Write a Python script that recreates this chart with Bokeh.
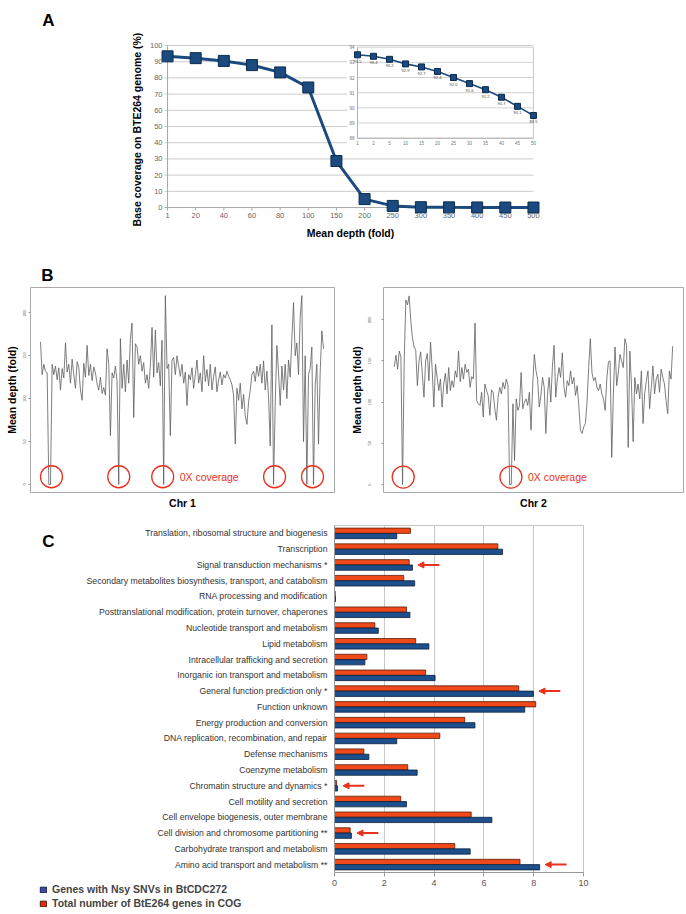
from bokeh.plotting import figure
from bokeh.models import (Range1d, FixedTicker, ColumnDataSource, Label, Legend, LegendItem,
                          Arrow, NormalHead, FactorRange, GridBox)
from bokeh.layouts import column, row
from bokeh.transform import dodge
from bokeh.embed import file_html
from bokeh.resources import INLINE

FONT = "Liberation Sans"
BLUE = "#1b4a7e"
BLUE_EDGE = "#0c2b50"
RED = "#e8321e"

# ---------------- Panel A data ----------------
depth_labels = ["1", "20", "40", "60", "80", "100", "150", "200", "250", "300", "350", "400", "450", "500"]
coverage_pct = [93.3, 92.2, 90.5, 87.9, 83.4, 74.1, 28.7, 5.2, 1.0, 0.2, 0.1, 0.05, 0.0, 0.0]
coverage_ticks = [0, 10, 20, 30, 40, 50, 60, 70, 80, 90, 100]

inset_depth_labels = ["1", "2", "5", "10", "15", "20", "25", "30", "35", "40", "45", "50"]
inset_coverage = [93.5, 93.4, 93.2, 92.9, 92.7, 92.4, 92.0, 91.6, 91.2, 90.7, 90.1, 89.5]
inset_ticks = [88, 89, 90, 91, 92, 93, 94]

# ---------------- Panel B data ----------------
chr1_depth = [166, 128, 140, 132, 130, 0, 0, 140, 128, 138,
              122, 136, 110, 135, 124, 165, 131, 140, 118, 146,
              128, 112, 143, 136, 110, 98, 141, 125, 162, 127,
              140, 121, 137, 130, 117, 110, 125, 106, 113, 104,
              158, 140, 57, 130, 124, 138, 120, 0, 170, 112,
              140, 108, 145, 118, 170, 188, 78, 164, 160, 140,
              150, 132, 142, 118, 128, 112, 138, 183, 125, 180,
              130, 142, 115, 168, 0, 220, 135, 140, 57, 145,
              148, 128, 150, 138, 126, 140, 118, 131, 92, 128,
              122, 136, 112, 128, 145, 118, 130, 108, 150, 120,
              134, 115, 140, 110, 126, 137, 108, 122, 131, 116,
              128, 124, 132, 126, 122, 116, 104, 47, 112, 98,
              118, 88, 105, 80, 70, 96, 110, 128, 132, 120,
              138, 126, 140, 118, 144, 110, 132, 102, 45, 186,
              0, 95, 162, 130, 92, 138, 110, 140, 100, 145,
              125, 170, 212, 150, 165, 128, 195, 220, 50, 150,
              0, 128, 135, 160, 0, 115, 140, 47, 130, 179,
              158]
chr1_gap_idx = [6.6, 47, 73.4, 140.6, 163.4]

chr2_depth = [143, 157, 140, 162, 155, 0, 150, 224, 218, 229,
              199, 178, 167, 163, 120, 150, 161, 134, 106, 150,
              159, 126, 173, 140, 94, 146, 130, 114, 128, 94,
              122, 135, 110, 142, 114, 126, 118, 138, 130, 162,
              125, 142, 128, 146, 136, 140, 118, 131, 128, 196,
              102, 98, 96, 112, 82, 122, 114, 108, 84, 115,
              112, 92, 78, 106, 118, 110, 124, 116, 128, 120,
              0, 0, 98, 29, 104, 90, 96, 136, 92, 100,
              104, 96, 112, 66, 120, 158, 138, 128, 94, 108,
              130, 118, 62, 110, 130, 100, 144, 169, 106, 128,
              142, 130, 160, 118, 106, 126, 120, 138, 122, 130,
              108, 120, 96, 66, 62, 70, 74, 100, 142, 177,
              136, 126, 130, 118, 114, 122, 110, 104, 90, 128,
              149, 150, 33, 110, 167, 120, 136, 158, 150, 142,
              177, 169, 45, 162, 120, 52, 130, 110, 122, 104,
              138, 74, 110, 126, 138, 92, 118, 144, 110, 128,
              134, 112, 140, 130, 122, 102, 86, 138, 128, 168]
chr2_gap_idx = [5.4, 70.8]
depth_ticks = [0, 50, 100, 150, 200]

# ---------------- Panel C data ----------------
cog_categories = [
    "Translation, ribosomal structure and biogenesis",
    "Transcription",
    "Signal transduction mechanisms *",
    "Secondary metabolites biosynthesis, transport, and catabolism",
    "RNA processing and modification",
    "Posttranslational modification, protein turnover, chaperones",
    "Nucleotide transport and metabolism",
    "Lipid metabolism",
    "Intracellular trafficking and secretion",
    "Inorganic ion transport and metabolism",
    "General function prediction only *",
    "Function unknown",
    "Energy production and conversion",
    "DNA replication, recombination, and repair",
    "Defense mechanisms",
    "Coenzyme metabolism",
    "Chromatin structure and dynamics *",
    "Cell motility and secretion",
    "Cell envelope biogenesis, outer membrane",
    "Cell division and chromosome partitioning **",
    "Carbohydrate transport and metabolism",
    "Amino acid transport and metabolism **",
]
snv_genes_pct = [2.5, 6.75, 3.13, 3.22, 0.04, 3.03, 1.76, 3.79, 1.22, 4.04, 7.99,
                 7.64, 5.64, 2.5, 1.38, 3.32, 0.12, 2.89, 6.32, 0.68, 5.45, 8.24]
cog_genes_pct = [3.05, 6.56, 3.0, 2.78, 0.03, 2.89, 1.62, 3.26, 1.30, 3.66, 7.40,
                 8.08, 5.23, 4.23, 1.18, 2.94, 0.08, 2.66, 5.49, 0.63, 4.83, 7.45]
pct_ticks = [0, 2, 4, 6, 8, 10]
legend_labels = ["Genes with Nsy SNVs in BtCDC272", "Total number of BtE264 genes in COG"]
panel_letters = ["A", "B", "C"]

W, H = 686, 914
A_H, B_H = 250, 262
C_H = H - A_H - B_H

# ================= Panel A =================
nA = len(depth_labels)
xA = list(range(nA))
A_L, A_R, A_T, A_B = 160, 146, 44, 36
frame_w = W - A_L - A_R
frame_h = A_H - A_T - A_B
x_pad = 0.25
y_lo, y_hi = -4.3, 100.62
pA = figure(width=W, height=A_H, x_range=Range1d(-x_pad, nA - 1 + x_pad),
            y_range=Range1d(y_lo, y_hi), output_backend="svg", toolbar_location=None,
            title_location=None,
            min_border_left=A_L, min_border_right=A_R, min_border_top=A_T, min_border_bottom=A_B)
pA.outline_line_color = None
pA.xgrid.visible = False
pA.ygrid.visible = False
# inset coordinate system (pixel placement of the inset within the frame)
px_x = frame_w / (nA - 1 + 2 * x_pad)
px_y = frame_h / (y_hi - y_lo)
nI = len(inset_depth_labels)
xI = list(range(nI))
in_left = px_x * x_pad + 190
in_right = px_x * (x_pad + nA - 1)
ipx = (in_right - in_left) / (nI - 1)
in_top = 1.7 + px_y * (y_hi - 100)
in_bottom = in_top + 91
ipy = (in_bottom - in_top) / (inset_ticks[-1] - inset_ticks[0])
pA.extra_x_ranges = {"ix": Range1d(-in_left / ipx, nI - 1 + (frame_w - in_right) / ipx)}
pA.extra_y_ranges = {"iy": Range1d(inset_ticks[0] - (frame_h - in_bottom) / ipy,
                                   inset_ticks[-1] + in_top / ipy)}

tick_dx = 3 / px_x
tick_dy = 3 / px_y
grid_y = [t for t in coverage_ticks if t > 0]
pA.segment(x0=[-tick_dx] * len(grid_y), y0=grid_y, x1=[nA - 1] * len(grid_y), y1=grid_y,
           line_color="#cccccc", line_width=1)
pA.segment(x0=[0, 0], y0=[0, 0], x1=[0, nA - 1], y1=[100, 0], line_color="#a8a8a8", line_width=1)
pA.segment(x0=xA, y0=[0] * nA, x1=xA, y1=[-tick_dy] * nA, line_color="#a8a8a8", line_width=1)
pA.segment(x0=[-tick_dx], y0=[0], x1=[0], y1=[0], line_color="#a8a8a8", line_width=1)

pA.quad(left=[-0.65], right=[nI - 1], top=[inset_ticks[-1]], bottom=[inset_ticks[0] - 0.9],
        fill_color="white", line_color=None, x_range_name="ix", y_range_name="iy")
pA.segment(x0=[0] * len(inset_ticks), y0=inset_ticks, x1=[nI - 1] * len(inset_ticks), y1=inset_ticks,
           line_color="#d2d2d2", line_width=1, x_range_name="ix", y_range_name="iy")
pA.segment(x0=[0, nI - 1], y0=[inset_ticks[0]] * 2, x1=[0, nI - 1], y1=[inset_ticks[-1]] * 2,
           line_color=["#b0b0b0", "#c8c8c8"], line_width=1, x_range_name="ix", y_range_name="iy")
pA.segment(x0=[0], y0=[inset_ticks[0]], x1=[nI - 1], y1=[inset_ticks[0]],
           line_color="#b0b0b0", line_width=1, x_range_name="ix", y_range_name="iy")
pA.text(x=[0] * len(inset_ticks), y=inset_ticks, text=[str(t) for t in inset_ticks],
        x_offset=-3, text_align="right", text_baseline="middle", text_font_size="4.5px",
        text_color="#777777", text_font={"value": FONT}, x_range_name="ix", y_range_name="iy")
pA.text(x=xI, y=[inset_ticks[0]] * nI, text=inset_depth_labels, y_offset=5,
        text_align="center", text_baseline="middle", text_font_size="4.5px",
        text_color="#777777", text_font={"value": FONT}, x_range_name="ix", y_range_name="iy")
pA.line(xI, inset_coverage, line_color=BLUE, line_width=1.6, x_range_name="ix", y_range_name="iy")
pA.scatter(xI, inset_coverage, marker="square", size=6, fill_color=BLUE, line_color=BLUE_EDGE,
           x_range_name="ix", y_range_name="iy")
pA.text(x=xI, y=inset_coverage, text=["%.1f" % v for v in inset_coverage], y_offset=6.5,
        text_align="center", text_baseline="middle", text_font_size="4px",
        text_color="#444444", text_font={"value": FONT}, x_range_name="ix", y_range_name="iy")

pA.line(xA, coverage_pct, line_color=BLUE, line_width=3)
pA.scatter(xA, coverage_pct, marker="square", size=11, fill_color=BLUE, line_color=BLUE_EDGE,
           line_width=1)

pA.xaxis.ticker = FixedTicker(ticks=xA)
pA.xaxis.major_label_overrides = {i: lab for i, lab in enumerate(depth_labels)}
pA.xaxis.axis_label = "Mean depth (fold)"
pA.xaxis.axis_label_standoff = 6
pA.yaxis.ticker = FixedTicker(ticks=coverage_ticks)
pA.yaxis.axis_label = "Base coverage on BTE264 genome (%)"
pA.yaxis.axis_label_standoff = 4
for ax in (pA.xaxis, pA.yaxis):
    ax.axis_line_color = None
    ax.major_tick_line_color = None
    ax.minor_tick_line_color = None
    ax.major_tick_out = 0
    ax.major_tick_in = 0
    ax.major_label_standoff = -2
    ax.major_label_text_font = FONT
    ax.major_label_text_font_size = "7.5px"
    ax.major_label_text_color = "#666666"
    ax.axis_label_text_font = FONT
    ax.axis_label_text_font_size = "10.5px"
    ax.axis_label_text_font_style = "bold"
    ax.axis_label_text_color = "black"


# ================= Panel B =================
def depth_panel(values, gaps, width, left_b, right_b, y_lo, y_hi, chr_label, label_gap,
                tick_standoff, pad_l, pad_r):
    n = len(values)
    fw = width - left_b - right_b
    px = (fw - pad_l - pad_r) / (n - 1)
    p = figure(width=width, height=B_H, x_range=Range1d(-pad_l / px, n - 1 + pad_r / px),
               y_range=Range1d(y_lo, y_hi), output_backend="svg", toolbar_location=None,
               title_location=None,
               min_border_left=left_b, min_border_right=right_b, min_border_top=37,
               min_border_bottom=20)
    p.outline_line_color = "#a8a8a8"
    p.outline_line_width = 1
    p.xgrid.visible = False
    p.ygrid.visible = False
    p.line(list(range(n)), values, line_color="#5e5e5e", line_width=0.8)
    p.scatter(gaps, [9] * len(gaps), marker="circle", size=22, fill_color=None,
              line_color=RED, line_width=1.3)
    p.add_layout(Label(x=label_gap, y=9, x_offset=17, text="0X coverage", text_font=FONT,
                       text_font_size="10.5px", text_color=RED, text_baseline="middle"))
    p.yaxis.ticker = FixedTicker(ticks=depth_ticks)
    p.yaxis.major_label_orientation = "vertical"
    p.yaxis.major_label_text_font_size = "4px"
    p.yaxis.major_label_text_color = "#555555"
    p.yaxis.major_label_text_font = FONT
    p.yaxis.major_label_standoff = tick_standoff
    p.yaxis.major_tick_out = 2
    p.yaxis.major_tick_in = 0
    p.yaxis.major_tick_line_color = "#999999"
    p.yaxis.minor_tick_line_color = None
    p.yaxis.axis_line_color = None
    p.yaxis.axis_label = "Mean depth (fold)"
    p.yaxis.axis_label_standoff = 3
    p.xaxis.ticker = FixedTicker(ticks=[])
    p.xaxis.axis_line_color = None
    p.xaxis.major_tick_out = 0
    p.xaxis.minor_tick_line_color = None
    p.xaxis.axis_label = chr_label
    p.xaxis.axis_label_standoff = 4
    for ax in (p.xaxis, p.yaxis):
        ax.axis_label_text_font = FONT
        ax.axis_label_text_font_size = "10.5px"
        ax.axis_label_text_font_style = "bold"
        ax.axis_label_text_color = "black"
    return p


pB1 = depth_panel(chr1_depth, chr1_gap_idx, 347, 30, 13, -9.32, 229.47, "Chr 1",
                  chr1_gap_idx[2], 2, 10, 11)
pB2 = depth_panel(chr2_depth, chr2_gap_idx, W - 347, 31, 3, -9.71, 239.2, "Chr 2",
                  chr2_gap_idx[1], 10, 11, 11)

# ================= Panel C =================
nC = len(cog_categories)
pC = figure(width=W, height=C_H, x_range=Range1d(pct_ticks[0], pct_ticks[-1]),
            y_range=FactorRange(factors=list(reversed(cog_categories))),
            output_backend="svg", toolbar_location=None, title_location=None,
            min_border_left=334, min_border_right=103, min_border_top=13, min_border_bottom=42)
pC.outline_line_color = "#c4c4c4"
pC.ygrid.visible = False
pC.xgrid.ticker = FixedTicker(ticks=pct_ticks)
pC.xgrid.grid_line_color = "#c8c8c8"
srcC = ColumnDataSource(dict(cat=cog_categories, snv=snv_genes_pct, cog=cog_genes_pct))
pC.hbar(y=dodge("cat", 0.168, range=pC.y_range), left=0, right="cog", height=0.335,
        fill_color="#f04818", line_color="#5a1e0a", line_width=0.8, source=srcC)
pC.hbar(y=dodge("cat", -0.168, range=pC.y_range), left=0, right="snv", height=0.335,
        fill_color="#1d4f8c", line_color="#0c1f3c", line_width=0.8, source=srcC)

arrow_rows = [i for i, c in enumerate(cog_categories) if c.endswith("*")]
heads = [max(snv_genes_pct[i], cog_genes_pct[i]) + 0.22 for i in arrow_rows]
arrow_src = ColumnDataSource(dict(xs=[h + 0.86 for h in heads], xe=heads,
                                  y=[nC - 1 - i + 0.5 for i in arrow_rows]))
pC.add_layout(Arrow(end=NormalHead(size=6, fill_color=RED, line_color=RED, line_width=1),
                    x_start="xs", y_start="y", x_end="xe", y_end="y", source=arrow_src,
                    line_color=RED, line_width=2))

pC.xaxis.ticker = FixedTicker(ticks=pct_ticks)
pC.xaxis.major_tick_out = 4
pC.xaxis.major_tick_in = 0
pC.xaxis.major_label_standoff = 3
pC.xaxis.major_label_text_font_size = "9px"
pC.xaxis.major_label_text_color = "#555555"
pC.xaxis.major_tick_line_color = "#999999"
pC.yaxis.major_tick_line_color = None
pC.yaxis.major_tick_out = 0
pC.yaxis.major_tick_in = 0
pC.yaxis.major_label_standoff = 7
pC.yaxis.major_label_text_font_size = "8.7px"
pC.yaxis.major_label_text_color = "#333333"
for ax in (pC.xaxis, pC.yaxis):
    ax.axis_line_color = "#999999"
    ax.minor_tick_line_color = None
    ax.major_label_text_font = FONT

# ================= Overlay: panel letters and legend =================
ov = figure(width=W, height=H, x_range=Range1d(0, W), y_range=Range1d(H, 0),
            x_axis_location=None, y_axis_location=None, min_border=0, title_location=None,
            toolbar_location=None, output_backend="svg")
ov.outline_line_color = None
ov.background_fill_alpha = 0
ov.border_fill_alpha = 0
ov.xgrid.visible = False
ov.ygrid.visible = False
ov.text(x=[48, 47, 48], y=[19.5, 275, 540.5], text=panel_letters, text_align="center",
        text_baseline="alphabetic", text_font={"value": FONT}, text_font_size="17px",
        text_font_style="bold", text_color="black")
# legend swatches: single off-canvas quads so the legend has a colour to show
leg_blue = ov.quad(left=[-30], right=[-20], top=[-30], bottom=[-20],
                   fill_color="#3c4ca8", line_color="#1a2050")
leg_red = ov.quad(left=[-30], right=[-20], top=[-30], bottom=[-20],
                  fill_color="#e42a12", line_color="#501808")
legend = Legend(items=[LegendItem(label=legend_labels[0], renderers=[leg_blue]),
                       LegendItem(label=legend_labels[1], renderers=[leg_red])],
                location=(39, 5), orientation="vertical", glyph_width=8, glyph_height=7,
                label_height=7, spacing=2, padding=0, margin=0, border_line_color=None,
                background_fill_alpha=0, label_standoff=5, label_text_font=FONT,
                label_text_font_size="10.5px", label_text_font_style="bold")
ov.add_layout(legend)

base = column(row(pA), row(pB1, pB2), row(pC))
layout = GridBox(children=[(base, 0, 0), (ov, 0, 0)])
open("out.html", "w").write(file_html(layout, INLINE))
